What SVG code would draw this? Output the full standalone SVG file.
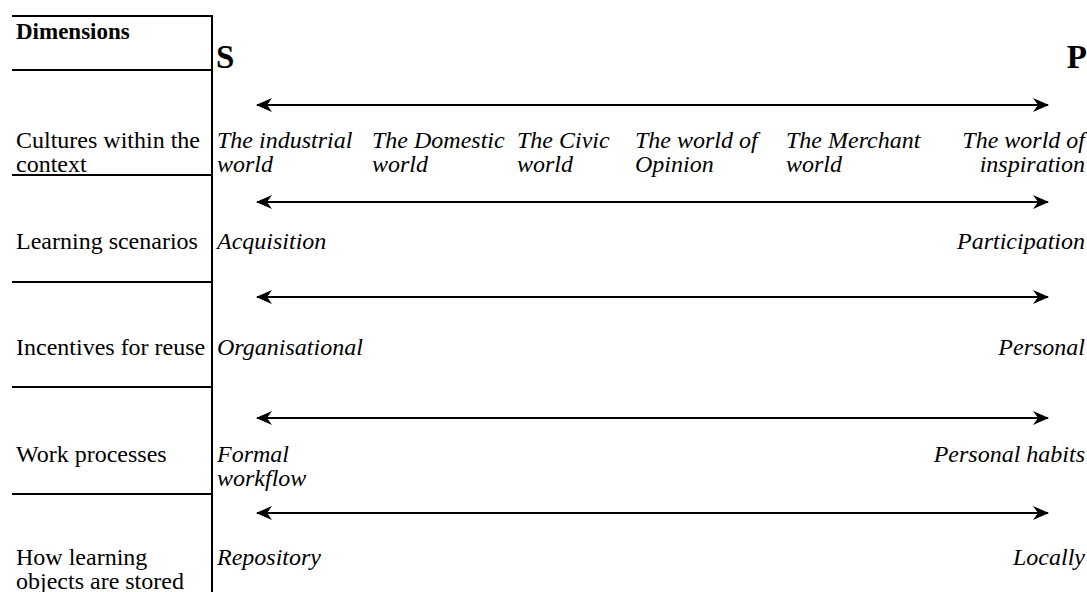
<svg xmlns="http://www.w3.org/2000/svg" width="1087" height="592" viewBox="0 0 1087 592">
<style>
text{font-family:"Liberation Serif","Times New Roman",serif;font-size:24px;fill:#000}
.i{font-style:italic}
.r{text-anchor:end}
.b{font-weight:bold}
.ln{stroke:#000;stroke-width:2;fill:none}
.ar{stroke:#000;stroke-width:2;fill:none;marker-start:url(#h);marker-end:url(#h)}
</style>
<defs>
<marker id="h" viewBox="0 0 16 14" refX="15" refY="7" markerWidth="16" markerHeight="14" markerUnits="userSpaceOnUse" orient="auto-start-reverse">
<path d="M0,0 L16,7 L0,14 L5,7 Z" fill="#000"/>
</marker>
</defs>
<g id="table">
<path class="ln" d="M12,16 H212 V592 M12,70 H212 M12,175 H212 M12,282 H212 M12,387 H212 M12,494 H212"/>
</g>
<g id="header">
<text x="16" y="39" class="b" style="font-size:23px">Dimensions</text>
<text x="216" y="68" class="b" style="font-size:33px">S</text>
<text x="1087" y="68" class="b r" style="font-size:33px">P</text>
</g>
<g id="connectors">
<line class="ar" x1="257" y1="105" x2="1048" y2="105"/>
<line class="ar" x1="257" y1="202" x2="1048" y2="202"/>
<line class="ar" x1="257" y1="297" x2="1048" y2="297"/>
<line class="ar" x1="257" y1="418" x2="1048" y2="418"/>
<line class="ar" x1="257" y1="513" x2="1048" y2="513"/>
</g>
<g id="row1">
<text x="16" y="148">Cultures within the</text>
<text x="16" y="172">context</text>
<text x="217" y="148" class="i">The industrial</text>
<text x="217" y="172" class="i">world</text>
<text x="372" y="148" class="i">The Domestic</text>
<text x="372" y="172" class="i">world</text>
<text x="517" y="148" class="i">The Civic</text>
<text x="517" y="172" class="i">world</text>
<text x="635" y="148" class="i">The world of</text>
<text x="635" y="172" class="i">Opinion</text>
<text x="786" y="148" class="i">The Merchant</text>
<text x="786" y="172" class="i">world</text>
<text x="1085" y="148" class="i r">The world of</text>
<text x="1085" y="172" class="i r">inspiration</text>
</g>
<g id="row2">
<text x="16" y="249">Learning scenarios</text>
<text x="217" y="249" class="i">Acquisition</text>
<text x="1085" y="249" class="i r">Participation</text>
</g>
<g id="row3">
<text x="16" y="355">Incentives for reuse</text>
<text x="217" y="355" class="i">Organisational</text>
<text x="1085" y="355" class="i r">Personal</text>
</g>
<g id="row4">
<text x="16" y="462">Work processes</text>
<text x="217" y="462" class="i">Formal</text>
<text x="217" y="486" class="i">workflow</text>
<text x="1085" y="462" class="i r">Personal habits</text>
</g>
<g id="row5">
<text x="16" y="565">How learning</text>
<text x="16" y="589">objects are stored</text>
<text x="217" y="565" class="i">Repository</text>
<text x="1085" y="565" class="i r">Locally</text>
</g>
</svg>
